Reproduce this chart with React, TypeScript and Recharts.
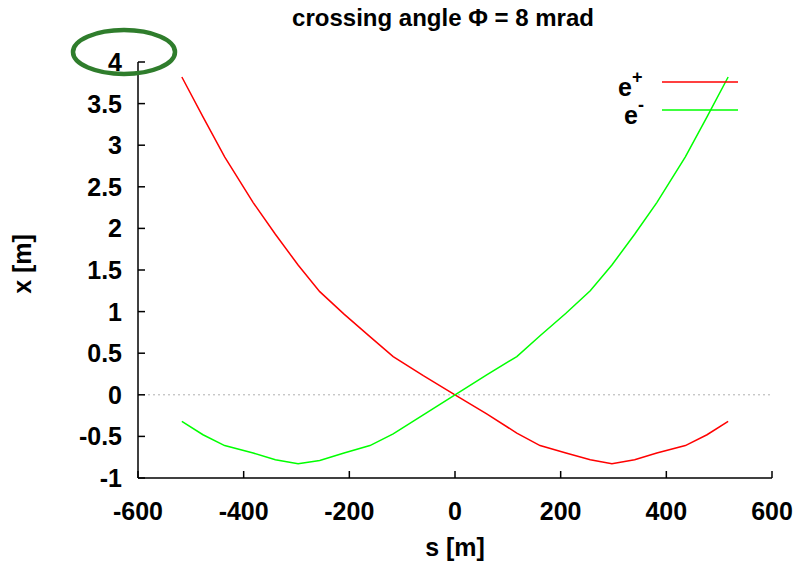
import React from "react";
import { LineChart, Line, XAxis, YAxis, ReferenceLine } from "recharts";

// beam trajectory, s in metres along the beam line
const sValues = [
  -517, -477, -436, -382, -340, -297, -256, -210, -161, -117, -60, 0, 60, 117, 161, 210, 256, 297, 340, 382,
  436, 477, 517,
];
const ePlus = [
  3.82, 3.34, 2.86, 2.31, 1.93, 1.56, 1.24, 0.97, 0.7, 0.46, 0.23, 0, -0.23, -0.46, -0.61, -0.7, -0.78, -0.83,
  -0.78, -0.7, -0.61, -0.48, -0.32,
];
const eMinus = [
  -0.32, -0.48, -0.61, -0.7, -0.78, -0.83, -0.79, -0.7, -0.61, -0.47, -0.24, 0, 0.24, 0.46, 0.71, 0.98, 1.25,
  1.56, 1.93, 2.31, 2.86, 3.34, 3.82,
];
const xTicks = [-600, -400, -200, 0, 200, 400, 600];
const yTicks = [-1, -0.5, 0, 0.5, 1, 1.5, 2, 2.5, 3, 3.5, 4];

const chartData = sValues.map((s, i) => ({ s, ep: ePlus[i], em: eMinus[i] }));

const FONT = "'Liberation Sans', Arial, Helvetica, sans-serif";
const axisStroke = { stroke: "#000", strokeWidth: 1.5 };
const TICK_LEN = 7;

// gnuplot style: ticks point inwards, labels outside
const BottomTick = (props: any) => {
  const { x, y, payload } = props;
  return (
    <g>
      <line x1={x} x2={x} y1={y} y2={y - TICK_LEN} stroke="#000" strokeWidth={1.5} />
      <text x={x} y={y + 42} textAnchor="middle" fontFamily={FONT} fontSize={25} fontWeight={700} fill="#000">
        {payload.value}
      </text>
    </g>
  );
};
const TopTick = (props: any) => {
  const { x, y } = props;
  return <line x1={x} x2={x} y1={y} y2={y + TICK_LEN} stroke="#000" strokeWidth={1.5} />;
};
const LeftTick = (props: any) => {
  const { x, y, payload } = props;
  return (
    <g>
      <line x1={x} x2={x + TICK_LEN} y1={y} y2={y} stroke="#000" strokeWidth={1.5} />
      <text x={x - 16} y={y + 9} textAnchor="end" fontFamily={FONT} fontSize={25} fontWeight={700} fill="#000">
        {payload.value}
      </text>
    </g>
  );
};
const RightTick = (props: any) => {
  const { x, y } = props;
  return <line x1={x} x2={x - TICK_LEN} y1={y} y2={y} stroke="#000" strokeWidth={1.5} />;
};

function GnuLegend() {
  return (
    <svg width={160} height={60} style={{ display: "block", overflow: "visible" }}>
      <text x={42} y={30} textAnchor="end" fontFamily={FONT} fontSize={25} fontWeight={700}>
        e
      </text>
      <text x={42} y={17} fontFamily={FONT} fontSize={18} fontWeight={700}>
        +
      </text>
      <line x1={72} x2={148} y1={16} y2={16} stroke="#ff0000" strokeWidth={1.5} />
      <text x={48} y={58} textAnchor="end" fontFamily={FONT} fontSize={25} fontWeight={700}>
        e
      </text>
      <text x={48} y={45} fontFamily={FONT} fontSize={18} fontWeight={700}>
        -
      </text>
      <line x1={72} x2={148} y1={44} y2={44} stroke="#00ff00" strokeWidth={1.5} />
    </svg>
  );
}

export default function App() {
  return (
    <div style={{ position: "absolute", left: 0, top: 0, width: 802, height: 567, background: "#fff" }}>
      <div
        style={{
          position: "absolute",
          left: 0,
          width: 886,
          top: 4,
          textAlign: "center",
          fontFamily: FONT,
          fontSize: 24,
          fontWeight: 700,
          color: "#000",
          pointerEvents: "none",
        }}
      >
        crossing angle Φ = 8 mrad
      </div>
      <LineChart width={802} height={567} data={chartData} margin={{ top: 62, right: 30, bottom: 0, left: 0 }}>
        <XAxis
          dataKey="s"
          type="number"
          domain={[-600, 600]}
          ticks={xTicks}
          allowDataOverflow
          height={89}
          tickSize={0}
          tickMargin={0}
          tick={<BottomTick />}
          tickLine={false}
          axisLine={axisStroke}
          interval={0}
          label={{
            value: "s [m]",
            position: "insideBottom",
            offset: 11,
            style: { fontFamily: FONT, fontSize: 25, fontWeight: 700, fill: "#000" },
          }}
        />
        <XAxis
          xAxisId="top"
          orientation="top"
          type="number"
          domain={[-600, 600]}
          ticks={xTicks}
          allowDataOverflow
          height={0}
          tickSize={0}
          tickMargin={0}
          tick={<TopTick />}
          tickLine={false}
          axisLine={axisStroke}
          interval={0}
        />
        <YAxis
          type="number"
          domain={[-1, 4]}
          ticks={yTicks}
          allowDataOverflow
          width={138}
          tickSize={0}
          tickMargin={0}
          tick={<LeftTick />}
          tickLine={false}
          axisLine={axisStroke}
          interval={0}
          label={{
            value: "x [m]",
            angle: -90,
            position: "insideLeft",
            offset: 22,
            dy: -6,
            style: { fontFamily: FONT, fontSize: 25, fontWeight: 700, fill: "#000", textAnchor: "middle" },
          }}
        />
        <YAxis
          yAxisId="right"
          orientation="right"
          type="number"
          domain={[-1, 4]}
          ticks={yTicks}
          allowDataOverflow
          width={0}
          tickSize={0}
          tickMargin={0}
          tick={<RightTick />}
          tickLine={false}
          axisLine={axisStroke}
          interval={0}
        />
        <ReferenceLine y={0} stroke="#b0b0b0" strokeDasharray="2 3" strokeWidth={1} />
        <Line
          dataKey="ep"
          name="e+"
          type="linear"
          stroke="#ff0000"
          strokeWidth={1.5}
          dot={false}
          isAnimationActive={false}
        />
        <Line
          dataKey="em"
          name="e-"
          type="linear"
          stroke="#00ff00"
          strokeWidth={1.5}
          dot={false}
          isAnimationActive={false}
        />
      </LineChart>
      <div style={{ position: "absolute", left: 590, top: 66, pointerEvents: "none" }}>
        <GnuLegend />
      </div>
      {/* green highlight oval drawn over the top y label */}
      <svg
        width={802}
        height={567}
        style={{ position: "absolute", left: 0, top: 0, pointerEvents: "none" }}
      >
        <ellipse cx={124} cy={52} rx={51} ry={22} fill="none" stroke="#2f7d2c" strokeWidth={4.5} />
      </svg>
    </div>
  );
}
